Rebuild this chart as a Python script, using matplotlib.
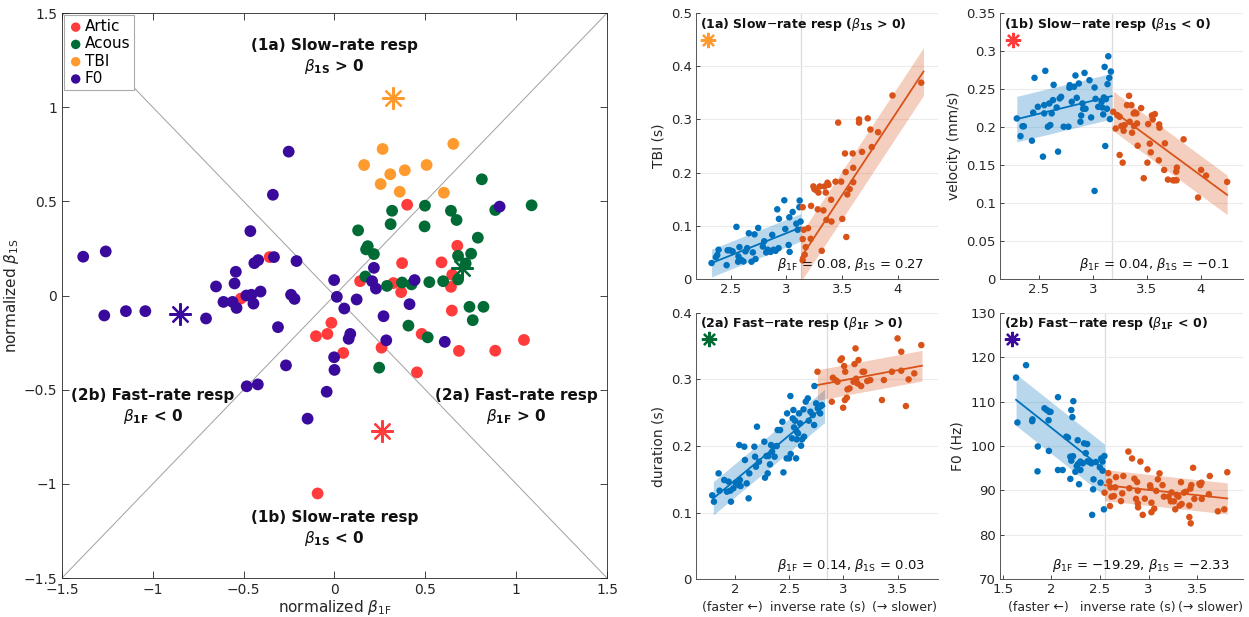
import numpy as np
import matplotlib.pyplot as plt

plt.rcParams['font.family'] = 'DejaVu Sans'
plt.rcParams['mathtext.fontset'] = 'dejavusans'

# ---- normalized slopes (beta_1F, beta_1S) per measure -------------------
artic_b1f = [0.40, 0.676, 0.372, 0.589, 0.648, 0.141, 0.324, 0.367, 0.641, 0.646,
             -0.357, -0.515, -0.017, -0.102, -0.039, 0.048, 0.259, 0.48, 0.454,
             0.685, 0.885, 1.043, -0.093]
artic_b1s = [0.482, 0.264, 0.172, 0.176, 0.11, 0.076, 0.066, 0.018, 0.046, -0.08,
             0.204, -0.016, -0.145, -0.216, -0.204, -0.305, -0.277, -0.204, -0.408,
             -0.294, -0.293, -0.236, -1.051]

acous_b1f = [0.811, 1.085, 0.885, 0.498, 0.317, 0.641, 0.309, 0.496, 0.672, 0.13,
             0.789, 0.183, 0.174, 0.217, 0.752, 0.68, 0.722, 0.17, 0.289, 0.372,
             0.424, 0.522, 0.598, 0.68, 0.743, 0.82, 0.761, 0.407, 0.513, 0.246]
acous_b1s = [0.617, 0.479, 0.454, 0.477, 0.45, 0.45, 0.379, 0.367, 0.401, 0.346,
             0.307, 0.262, 0.245, 0.22, 0.222, 0.211, 0.17, 0.101, 0.051, 0.069,
             0.059, 0.071, 0.076, 0.085, -0.06, -0.06, -0.131, -0.16, -0.222, -0.383]

tbi_b1f = [0.163, 0.265, 0.254, 0.307, 0.387, 0.359, 0.507, 0.654, 0.602]
tbi_b1s = [0.693, 0.778, 0.592, 0.644, 0.665, 0.551, 0.693, 0.805, 0.546]

f0_b1f = [-0.252, -0.339, -0.463, 0.909, -1.383, -1.259, -0.543, -0.441, -0.42, -0.333,
          -0.209, -0.652, -0.55, -0.407, -0.485, -0.457, -0.239, -0.22, -0.611, -0.561,
          -0.539, -0.446, 0.217, -0.002, 0.207, 0.228, 0.441, 0.013, 0.122, 0.413,
          0.054, 0.27, -1.267, -1.148, -1.041, -0.707, -0.311, 0.087, 0.078, 0.285,
          0.607, -0.002, 0.0, -0.267, -0.483, -0.422, -0.043, -0.148]
f0_b1s = [0.764, 0.535, 0.342, 0.472, 0.206, 0.234, 0.126, 0.172, 0.188, 0.204,
          0.183, 0.048, 0.064, 0.021, 0.0, 0.004, 0.004, -0.018, -0.034, -0.034,
          -0.066, -0.043, 0.147, 0.082, 0.076, 0.037, 0.082, -0.007, -0.021, -0.046,
          -0.069, -0.11, -0.106, -0.083, -0.083, -0.122, -0.168, -0.204, -0.23, -0.238,
          -0.246, -0.328, -0.395, -0.371, -0.482, -0.472, -0.511, -0.654]

# example speakers shown on the right (starred)
star_b1f = {'Artic': 0.259, 'Acous': 0.70, 'TBI': 0.324, 'F0': -0.848}
star_b1s = {'Artic': -0.718, 'Acous': 0.144, 'TBI': 1.048, 'F0': -0.099}

# ---- example fits: inverse rate vs measure --------------------------------
# (1a) TBI
tbi_fast_x = [2.33, 2.369, 2.381, 2.393, 2.465, 2.474, 2.495, 2.519, 2.553, 2.568, 2.58,
              2.571, 2.595, 2.616, 2.634, 2.649, 2.664, 2.688, 2.7, 2.715, 2.724, 2.748,
              2.79, 2.802, 2.82, 2.835, 2.859, 2.874, 2.886, 2.904, 2.919, 2.931, 2.934,
              2.982, 2.991, 3.021, 3.03, 3.027, 3.057, 3.09, 3.102, 3.117, 3.12, 3.128]
tbi_fast_y = [0.030, 0.041, 0.045, 0.055, 0.026, 0.054, 0.054, 0.052, 0.098, 0.0325, 0.06,
              0.0425, 0.036, 0.033, 0.052, 0.058, 0.086, 0.0325, 0.05, 0.084, 0.0375, 0.096,
              0.061, 0.071, 0.05, 0.055, 0.051, 0.083, 0.055, 0.053, 0.131, 0.058, 0.113,
              0.148, 0.094, 0.064, 0.051, 0.116, 0.126, 0.104, 0.0925, 0.135, 0.1475, 0.108]
tbi_slow_x = [3.147, 3.147, 3.147, 3.156, 3.165, 3.174, 3.195, 3.219, 3.222, 3.243, 3.252,
              3.264, 3.282, 3.288, 3.3, 3.318, 3.333, 3.342, 3.354, 3.36, 3.369, 3.378,
              3.402, 3.405, 3.441, 3.465, 3.492, 3.502, 3.526, 3.532, 3.538, 3.547, 3.568,
              3.595, 3.6, 3.6, 3.652, 3.652, 3.679, 3.73, 3.754, 3.766, 3.823, 3.952, 4.21]
tbi_slow_y = [0.135, 0.075, 0.035, 0.0925, 0.0456, 0.06, 0.0956, 0.0756, 0.1375, 0.174, 0.169,
              0.1675, 0.131, 0.1625, 0.174, 0.053, 0.129, 0.174, 0.1625, 0.111, 0.181, 0.177,
              0.149, 0.108, 0.183, 0.294, 0.183, 0.113, 0.236, 0.201, 0.079, 0.159, 0.169,
              0.236, 0.209, 0.182, 0.3, 0.294, 0.239, 0.302, 0.281, 0.248, 0.276, 0.345, 0.369]
tbi_fast_fit = ([2.33, 3.13], [0.030, 0.097])
tbi_slow_fit = ([3.13, 4.23], [0.040, 0.390])

# (1b) velocity
vel_fast_x = [2.296, 2.33, 2.349, 2.361, 2.436, 2.448, 2.46, 2.491, 2.538, 2.55, 2.56, 2.55,
              2.584, 2.597, 2.606, 2.619, 2.631, 2.637, 2.665, 2.678, 2.693, 2.706, 2.73,
              2.774, 2.783, 2.786, 2.805, 2.826, 2.839, 2.851, 2.87, 2.885, 2.892, 2.904,
              2.91, 2.923, 2.932, 2.969, 2.984, 3.016, 3.016, 3.025, 3.05, 3.081, 3.087,
              3.096, 3.102, 3.109, 3.115, 3.121, 3.13, 3.136, 3.143, 3.152, 3.158, 3.167]
vel_fast_y = [0.2113, 0.188, 0.201, 0.201, 0.182, 0.219, 0.2647, 0.2266, 0.161, 0.2288,
              0.2739, 0.2179, 0.2004, 0.231, 0.2026, 0.2179, 0.2354, 0.2555, 0.2257, 0.1676,
              0.2376, 0.2397, 0.2004, 0.2004, 0.2516, 0.2551, 0.2332, 0.2529, 0.2678, 0.2384,
              0.2573, 0.2069, 0.2152, 0.231, 0.224, 0.2712, 0.224, 0.2616, 0.2126, 0.252,
              0.1159, 0.2371, 0.2266, 0.2332, 0.2257, 0.2166, 0.2389, 0.2791, 0.175, 0.2367,
              0.224, 0.2564, 0.2931, 0.2647, 0.2104, 0.273]
vel_slow_x = [3.189, 3.211, 3.226, 3.248, 3.248, 3.264, 3.276, 3.285, 3.294, 3.316, 3.335,
              3.341, 3.357, 3.363, 3.378, 3.381, 3.388, 3.403, 3.409, 3.415, 3.447, 3.471,
              3.505, 3.512, 3.527, 3.536, 3.546, 3.555, 3.574, 3.614, 3.617, 3.611, 3.66,
              3.667, 3.695, 3.741, 3.757, 3.772, 3.778, 3.775, 3.84, 3.974, 4.002, 4.048, 4.243]
vel_slow_y = [0.22, 0.198, 0.2157, 0.2135, 0.1632, 0.2013, 0.1531, 0.1951, 0.2026, 0.2288,
              0.2411, 0.2069, 0.2288, 0.1925, 0.2179, 0.2013, 0.2192, 0.2179, 0.2047, 0.1754,
              0.2249, 0.1326, 0.1531, 0.2039, 0.1781, 0.1667, 0.2152, 0.21, 0.217, 0.2034,
              0.1991, 0.1562, 0.1435, 0.1785, 0.1308, 0.1299, 0.1299, 0.1413, 0.1466, 0.1299,
              0.1838, 0.1072, 0.1435, 0.1361, 0.1278]
vel_fast_fit = ([2.296, 3.174], [0.2104, 0.2406])
vel_slow_fit = ([3.189, 4.243], [0.221, 0.1107])

# (2a) duration
dur_fast_x = [1.79, 1.806, 1.849, 1.858, 1.901, 1.926, 1.941, 1.957, 1.963, 1.985, 2.006,
              2.031, 2.04, 2.046, 2.052, 2.086, 2.092, 2.108, 2.126, 2.132, 2.179, 2.185,
              2.194, 2.203, 2.222, 2.271, 2.277, 2.29, 2.302, 2.308, 2.323, 2.333, 2.342,
              2.354, 2.366, 2.385, 2.394, 2.416, 2.437, 2.447, 2.477, 2.481, 2.499, 2.511,
              2.514, 2.527, 2.533, 2.539, 2.545, 2.554, 2.564, 2.57, 2.57, 2.582, 2.591,
              2.601, 2.61, 2.619, 2.632, 2.638, 2.653, 2.672, 2.681, 2.696, 2.718, 2.73,
              2.733, 2.749, 2.764, 2.786, 2.801]
dur_fast_y = [0.126, 0.1165, 0.159, 0.133, 0.149, 0.1315, 0.1465, 0.133, 0.1165, 0.1365,
              0.145, 0.1415, 0.2015, 0.149, 0.14, 0.199, 0.179, 0.144, 0.1215, 0.159, 0.199,
              0.184, 0.169, 0.229, 0.1765, 0.2065, 0.1525, 0.185, 0.159, 0.185, 0.1725,
              0.2015, 0.1915, 0.199, 0.184, 0.2, 0.224, 0.224, 0.2365, 0.1605, 0.1815, 0.249,
              0.1815, 0.275, 0.188, 0.2115, 0.2415, 0.254, 0.228, 0.238, 0.1815, 0.2215,
              0.21, 0.219, 0.249, 0.234, 0.2005, 0.21, 0.255, 0.214, 0.2665, 0.2715, 0.238,
              0.2515, 0.2465, 0.2315, 0.29, 0.264, 0.2565, 0.249, 0.2615]
dur_slow_x = [2.761, 2.893, 2.903, 2.927, 2.946, 2.973, 2.986, 2.998, 3.007, 3.017, 3.014,
              3.032, 3.038, 3.057, 3.094, 3.103, 3.112, 3.118, 3.13, 3.14, 3.164, 3.177,
              3.192, 3.22, 3.248, 3.356, 3.374, 3.448, 3.5, 3.534, 3.534, 3.577, 3.602,
              3.654, 3.719]
dur_slow_y = [0.3115, 0.2665, 0.3025, 0.299, 0.2965, 0.329, 0.3315, 0.2575, 0.32, 0.3115,
              0.269, 0.2725, 0.285, 0.2865, 0.2965, 0.323, 0.3465, 0.301, 0.294, 0.329, 0.29,
              0.3115, 0.3115, 0.2975, 0.299, 0.269, 0.299, 0.3115, 0.3615, 0.3415, 0.313,
              0.26, 0.3, 0.309, 0.3515]
dur_fast_fit = ([1.80, 2.826], [0.1215, 0.26])
dur_slow_fit = ([2.761, 3.725], [0.2915, 0.3205])

# (2b) F0
pitch_fast_x = [1.635, 1.649, 1.738, 1.804, 1.801, 1.859, 1.856, 1.928, 1.952, 1.97, 1.977,
                1.99, 1.973, 2.067, 2.067, 2.115, 2.153, 2.17, 2.194, 2.194, 2.204, 2.204,
                2.215, 2.222, 2.225, 2.246, 2.26, 2.27, 2.274, 2.284, 2.298, 2.298, 2.322,
                2.336, 2.353, 2.367, 2.37, 2.398, 2.412, 2.433, 2.429, 2.419, 2.457, 2.498,
                2.505, 2.512, 2.526, 2.526, 2.54, 2.545]
pitch_fast_y = [115.4, 105.3, 118.2, 106.0, 105.6, 99.9, 94.3, 108.5, 108.1, 105.8, 107.7,
                107.7, 98.9, 111.0, 94.6, 94.6, 102.1, 101.9, 92.6, 97.6, 96.7, 108.1, 106.5,
                97.7, 110.1, 94.2, 95.5, 101.3, 95.95, 91.4, 96.5, 94.6, 96.1, 100.6, 98.4,
                100.45, 96.55, 96.3, 96.1, 92.5, 90.25, 84.5, 96.4, 95.2, 91.75, 97.2, 96.5,
                94.45, 85.75, 97.75]
pitch_slow_x = [2.547, 2.585, 2.595, 2.602, 2.609, 2.619, 2.643, 2.657, 2.664, 2.716, 2.729,
                2.74, 2.792, 2.802, 2.83, 2.854, 2.871, 2.882, 2.889, 2.889, 2.892, 2.916,
                2.94, 2.961, 2.989, 3.016, 3.02, 3.03, 3.03, 3.058, 3.079, 3.096, 3.113,
                3.144, 3.158, 3.206, 3.23, 3.237, 3.261, 3.275, 3.289, 3.307, 3.32, 3.334,
                3.341, 3.365, 3.383, 3.42, 3.42, 3.431, 3.434, 3.441, 3.459, 3.472, 3.524,
                3.534, 3.545, 3.548, 3.621, 3.631, 3.714, 3.78, 3.811]
pitch_slow_y = [89.5, 93.9, 92.0, 86.5, 90.7, 88.6, 88.75, 90.7, 93.0, 87.6, 89.35, 93.25,
                98.75, 90.5, 97.2, 92.65, 88.1, 91.9, 89.95, 87.1, 86.2, 96.5, 84.5, 88.15,
                94.75, 91.15, 90.6, 87.25, 85.1, 85.9, 89.9, 92.5, 93.85, 91.2, 88.6, 88.6,
                87.55, 89.55, 87.55, 85.75, 89.0, 88.6, 86.6, 91.85, 86.95, 89.5, 89.7, 86.6,
                84.0, 90.4, 82.6, 91.2, 95.1, 88.1, 91.5, 91.2, 91.75, 88.1, 89.15, 93.25,
                85.3, 85.75, 94.1]
pitch_fast_fit = ([1.635, 2.547], [110.4, 94.6])
pitch_slow_fit = ([2.547, 3.811], [91.2, 88.2])

# colours
c_artic = '#FF3B3B'
c_acous = '#006B35'
c_tbi = '#FF9A2E'
c_f0 = '#3A0A9C'
c_fast = '#0072BD'
c_slow = '#D95319'
MINUS = '\u2212'
STAR = (8, 2, 0)


def fmt(v):
    return ('%g' % v).replace('-', MINUS)


fig = plt.figure(figsize=(12.49, 6.17), dpi=100)

# ---------------- left: beta_1F vs beta_1S ---------------------------------
ax = fig.add_axes([0.0496, 0.0632, 0.4364, 0.9157])
ax.plot([-1.5, 1.5], [-1.5, 1.5], color='#a0a0a0', lw=0.7, zorder=1)
ax.plot([-1.5, 1.5], [1.5, -1.5], color='#a0a0a0', lw=0.7, zorder=1)

groups = [('Artic', artic_b1f, artic_b1s, c_artic),
          ('Acous', acous_b1f, acous_b1s, c_acous),
          ('TBI', tbi_b1f, tbi_b1s, c_tbi),
          ('F0', f0_b1f, f0_b1s, c_f0)]
for name, xs, ys, col in groups:
    ax.scatter(xs, ys, s=72, color=col, edgecolors='none', label=name, zorder=3)
for name, xs, ys, col in groups:
    ax.plot(star_b1f[name], star_b1s[name], marker=STAR, ms=16, mew=1.6,
            color=col, ls='none', zorder=4)

ax.set_xlim(-1.5, 1.5)
ax.set_ylim(-1.5, 1.5)
ticks = [-1.5, -1, -0.5, 0, 0.5, 1, 1.5]
ax.set_xticks(ticks, [fmt(t) for t in ticks])
ax.set_yticks(ticks, [fmt(t) for t in ticks])
ax.tick_params(direction='in', top=True, right=True, length=5, width=0.6,
               labelsize=10, colors='#262626')
for sp in ax.spines.values():
    sp.set_color('#262626')
    sp.set_linewidth(0.6)
ax.set_xlabel(r'normalized $\beta_{\rm 1F}$', fontsize=11, labelpad=1, color='#262626')
ax.set_ylabel(r'normalized $\beta_{\rm 1S}$', fontsize=11, labelpad=2, color='#262626')

leg = ax.legend(loc='upper left', fontsize=11, handletextpad=0.1, borderpad=0.25,
                labelspacing=0.15, handlelength=1.0, borderaxespad=0.15,
                fancybox=False, framealpha=1, edgecolor='#aaaaaa', markerscale=0.8)
leg.get_frame().set_linewidth(0.8)
leg.set_zorder(5)

quad_kw = dict(ha='center', va='center', fontsize=11, fontweight='bold',
               linespacing=1.3, color='#111111')
ax.text(0, 1.265, '(1a) Slow\u2013rate resp\n' + r'$\beta_{\mathbf{1S}}$ > 0', **quad_kw)
ax.text(0, -1.24, '(1b) Slow\u2013rate resp\n' + r'$\beta_{\mathbf{1S}}$ < 0', **quad_kw)
ax.text(1.0, -0.59, '(2a) Fast\u2013rate resp\n' + r'$\beta_{\mathbf{1F}}$ > 0', **quad_kw)
ax.text(-1.0, -0.59, '(2b) Fast\u2013rate resp\n' + r'$\beta_{\mathbf{1F}}$ < 0', **quad_kw)


# ---------------- right: example speakers ----------------------------------
def rate_panel(rect, fx, fy, sx, sy, ffit, sfit, fband, sband, brk, xlim, xticks,
               ylim, yticks, ylabel, title, note, star, star_col, xlab=None):
    a = fig.add_axes(rect)
    a.set_xlim(*xlim)
    a.set_ylim(*ylim)
    a.set_xticks(xticks, [fmt(t) for t in xticks])
    a.set_yticks(yticks, [fmt(t) for t in yticks])
    a.yaxis.grid(True, color='#ececec', lw=0.8)
    a.set_axisbelow(True)
    a.axvline(brk, color='#dcdcdc', lw=0.9, zorder=0)

    for (xs, ys), band, col in [(ffit, fband, c_fast), (sfit, sband, c_slow)]:
        xs = np.array(xs)
        ys = np.array(ys)
        a.fill_between(xs, ys - band, ys + band, color=col, alpha=0.28, lw=0, zorder=1)
        a.plot(xs, ys, color=col, lw=1.3, zorder=2)
    a.scatter(fx, fy, s=22, color=c_fast, edgecolors='none', zorder=3)
    a.scatter(sx, sy, s=22, color=c_slow, edgecolors='none', zorder=3)

    a.plot(star[0], star[1], marker=STAR, ms=11, mew=1.6, color=star_col, ls='none')
    a.text(0.015, 0.99, title, transform=a.transAxes, ha='left', va='top',
           fontsize=9, fontweight='bold', color='#111111')
    a.text(0.945, 0.04, note, transform=a.transAxes, ha='right', va='baseline',
           fontsize=9.5, color='#111111')

    for side in ['top', 'right']:
        a.spines[side].set_visible(False)
    for side in ['left', 'bottom']:
        a.spines[side].set_color('#555555')
        a.spines[side].set_linewidth(0.7)
    a.tick_params(direction='in', length=3, width=0.6, labelsize=9.5,
                  colors='#262626', pad=3)
    a.set_ylabel(ylabel, fontsize=10, color='#262626', labelpad=4)
    if xlab is not None:
        tr = a.get_xaxis_transform()
        for xpos, txt in zip(xlab, ['(faster \u2190)', 'inverse rate (s)', '(\u2192 slower)']):
            a.text(xpos, -0.105, txt, transform=tr, ha='center', va='center',
                   fontsize=9, color='#262626')
    return a


rate_panel([0.5572, 0.5478, 0.1938, 0.4311], tbi_fast_x, tbi_fast_y, tbi_slow_x, tbi_slow_y,
           tbi_fast_fit, tbi_slow_fit, 0.026, 0.045, 3.13, (2.19, 4.36), [2.5, 3, 3.5, 4],
           (0, 0.5), [0, 0.1, 0.2, 0.3, 0.4, 0.5], 'TBI (s)',
           r'(1a) Slow$-$rate resp ($\beta_{\mathbf{1S}}$ > 0)',
           r'$\beta_{\rm 1F}$ = 0.08, $\beta_{\rm 1S}$ = 0.27', (2.30, 0.45), c_tbi)

rate_panel([0.8006, 0.5478, 0.1946, 0.4311], vel_fast_x, vel_fast_y, vel_slow_x, vel_slow_y,
           vel_fast_fit, vel_slow_fit, 0.03, 0.026, 3.18, (2.14, 4.39), [2.5, 3, 3.5, 4],
           (0, 0.35), [0, 0.05, 0.1, 0.15, 0.2, 0.25, 0.3, 0.35], 'velocity (mm/s)',
           r'(1b) Slow$-$rate resp ($\beta_{\mathbf{1S}}$ < 0)',
           r'$\beta_{\rm 1F}$ = 0.04, $\beta_{\rm 1S}$ = ' + MINUS + '0.1', (2.26, 0.315), c_artic)

rate_panel([0.5572, 0.0611, 0.1938, 0.432], dur_fast_x, dur_fast_y, dur_slow_x, dur_slow_y,
           dur_fast_fit, dur_slow_fit, 0.025, 0.023, 2.848, (1.64, 3.873), [2, 2.5, 3, 3.5],
           (0, 0.4), [0, 0.1, 0.2, 0.3, 0.4], 'duration (s)',
           r'(2a) Fast$-$rate resp ($\beta_{\mathbf{1F}}$ > 0)',
           r'$\beta_{\rm 1F}$ = 0.14, $\beta_{\rm 1S}$ = 0.03', (1.76, 0.36), c_acous,
           xlab=[1.98, 2.76, 3.56])

rate_panel([0.8006, 0.0611, 0.1946, 0.432], pitch_fast_x, pitch_fast_y, pitch_slow_x,
           pitch_slow_y, pitch_fast_fit, pitch_slow_fit, 5.8, 3.5, 2.547, (1.469, 3.973),
           [1.5, 2, 2.5, 3, 3.5], (70, 130), [70, 80, 90, 100, 110, 120, 130], 'F0 (Hz)',
           r'(2b) Fast$-$rate resp ($\beta_{\mathbf{1F}}$ < 0)',
           r'$\beta_{\rm 1F}$ = ' + MINUS + '19.29, $\\beta_{\\rm 1S}$ = ' + MINUS + '2.33',
           (1.597, 124.2), c_f0, xlab=[1.87, 2.785, 3.64])

fig.savefig('out.png', dpi=100)
